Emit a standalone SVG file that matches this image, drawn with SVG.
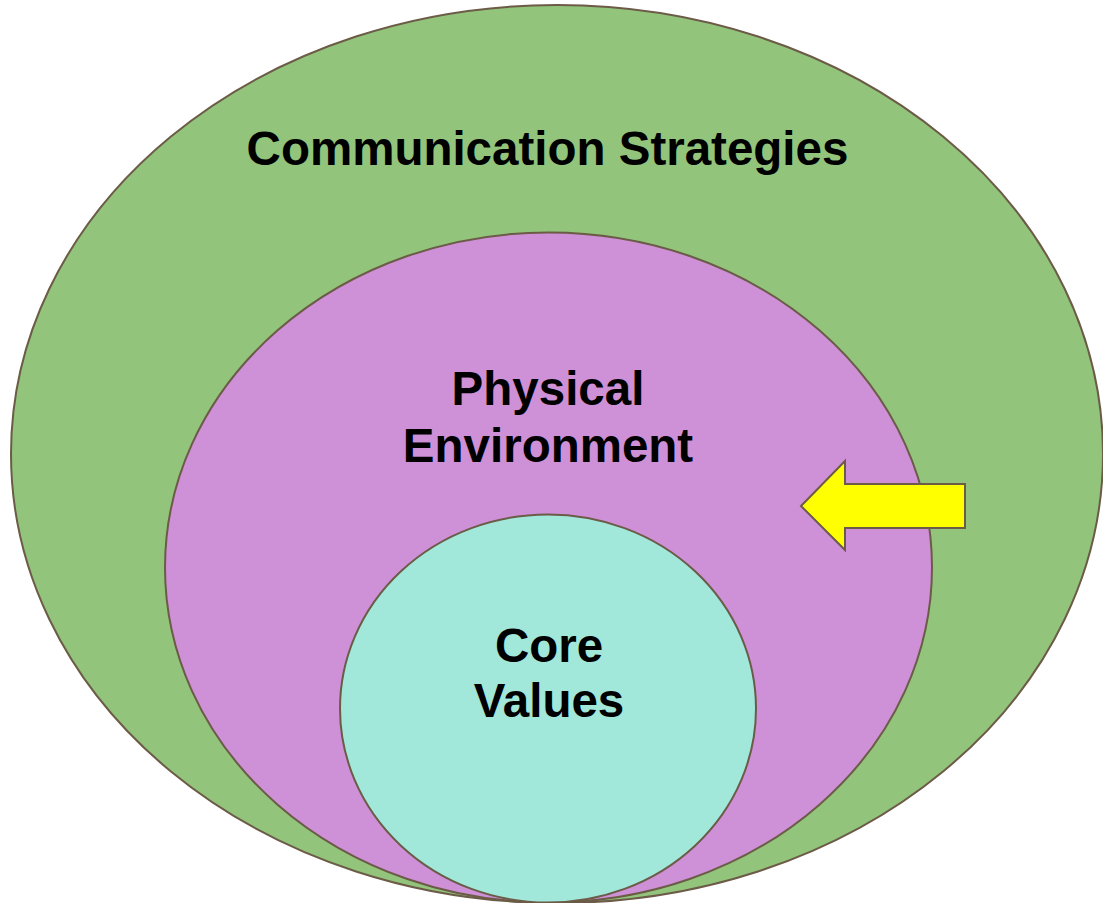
<svg xmlns="http://www.w3.org/2000/svg" width="1103" height="903" viewBox="0 0 1103 903">
<style>
.shape{stroke:#6b5b47;stroke-width:2}
.lbl{font-family:"Liberation Sans",Arial,sans-serif;font-weight:bold;font-size:47.5px;fill:#000;text-anchor:middle}
</style>
<rect width="1103" height="903" fill="#ffffff"/>
<g id="communication-strategies">
<ellipse class="shape" cx="557" cy="454" rx="546" ry="449" fill="#92c47c"/>
<text class="lbl" x="547.5" y="165">Communication Strategies</text>
</g>
<g id="physical-environment">
<ellipse class="shape" cx="548.5" cy="567.5" rx="383.5" ry="335" fill="#ce90d6"/>
<text class="lbl" x="548" y="405">Physical</text>
<text class="lbl" x="548" y="462">Environment</text>
</g>
<g id="core-values">
<ellipse class="shape" cx="548" cy="708.5" rx="208" ry="194" fill="#a1e7da"/>
<text class="lbl" x="549" y="662">Core</text>
<text class="lbl" x="549" y="717">Values</text>
</g>
<g id="connectors">
<polygon class="shape" points="801,506 845,461 845,484 965,484 965,528 845,528 845,550" fill="#ffff00"/>
</g>
</svg>
